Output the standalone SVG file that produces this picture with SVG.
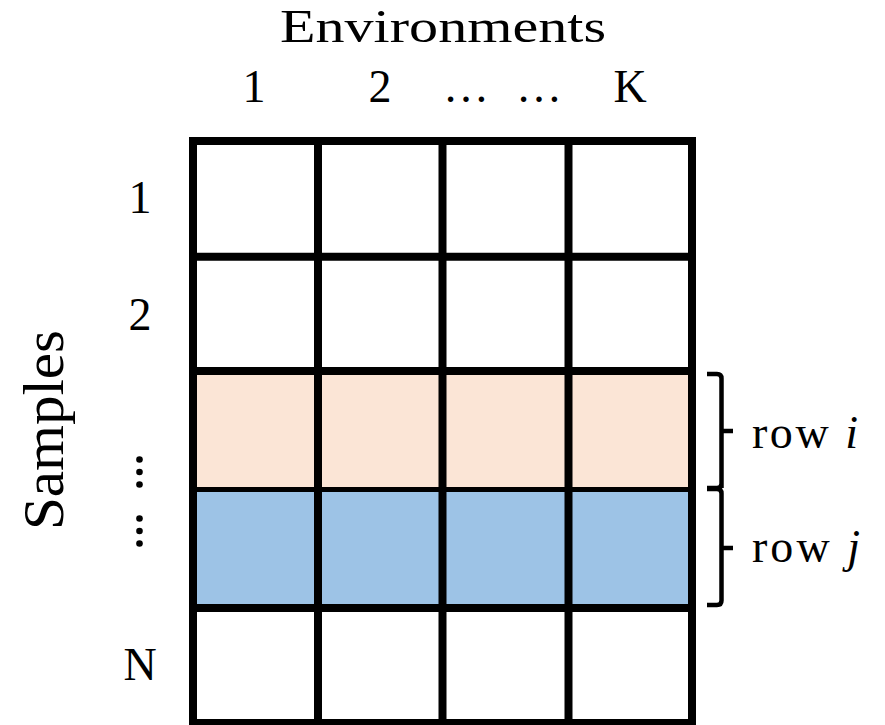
<svg xmlns="http://www.w3.org/2000/svg" width="885" height="725" viewBox="0 0 885 725">
<style>
.t{font-family:"Liberation Serif","Times New Roman",serif;fill:#000}
.grid{stroke:#000;stroke-width:8;fill:none;stroke-linecap:square}
.brace{stroke:#000;stroke-width:4.5;fill:none;stroke-linejoin:round}
</style>
<rect width="885" height="725" fill="#fff"/>
<g id="title">
<text class="t" x="443" y="42" font-size="47" text-anchor="middle" textLength="326" lengthAdjust="spacingAndGlyphs">Environments</text>
</g>
<g id="col-labels">
<text class="t" x="254" y="102" font-size="46" text-anchor="middle">1</text>
<text class="t" x="380" y="102" font-size="46" text-anchor="middle">2</text>
<text class="t" x="466" y="102" font-size="46" text-anchor="middle">…</text>
<text class="t" x="539" y="102" font-size="46" text-anchor="middle">…</text>
<text class="t" x="630" y="102" font-size="46" text-anchor="middle">K</text>
</g>
<g id="samples-label">
<text class="t" transform="translate(63,430) rotate(-90)" font-size="56" text-anchor="middle" textLength="200" lengthAdjust="spacingAndGlyphs">Samples</text>
</g>
<g id="row-labels">
<text class="t" x="140" y="213" font-size="46" text-anchor="middle">1</text>
<text class="t" x="140" y="330" font-size="46" text-anchor="middle">2</text>
<text class="t" x="140" y="680" font-size="46" text-anchor="middle">N</text>
<g fill="#000">
<circle cx="139.5" cy="459.5" r="3.3"/><circle cx="139.5" cy="472" r="3.3"/><circle cx="139.5" cy="484.5" r="3.3"/>
<circle cx="139.5" cy="518.5" r="3.3"/><circle cx="139.5" cy="531" r="3.3"/><circle cx="139.5" cy="543.5" r="3.3"/>
</g>
</g>
<g id="matrix">
<rect x="193" y="371" width="499" height="118.5" fill="#FBE5D6"/>
<rect x="193" y="489.5" width="499" height="118.5" fill="#9DC3E6"/>
<path class="grid" d="M193,141 H692 M193,256.7 H692 M193,371 H692 M193,608 H692 M193,723 H692 M193,141 V723 M318,141 V723 M442.5,141 V723 M568.5,141 V723 M692,141 V723"/>
<path d="M193,489.5 H692" stroke="#000" stroke-width="5"/>
</g>
<g id="connectors">
<path class="brace" d="M707,374 H717 Q721.5,374 721.5,378.5 V488 M721.5,431 H733 M721.5,483.5 Q721.5,488 717,488 H707"/>
<path class="brace" d="M707,489 H717 Q721.5,489 721.5,493.5 V600.5 Q721.5,605 717,605 H707 M721.5,548 H733"/>
</g>
<g id="row-i">
<text class="t" x="752" y="448" font-size="46" textLength="106" lengthAdjust="spacing">row <tspan font-style="italic">i</tspan></text>
</g>
<g id="row-j">
<text class="t" x="752" y="562" font-size="46" textLength="108" lengthAdjust="spacing">row <tspan font-style="italic">j</tspan></text>
</g>
</svg>
